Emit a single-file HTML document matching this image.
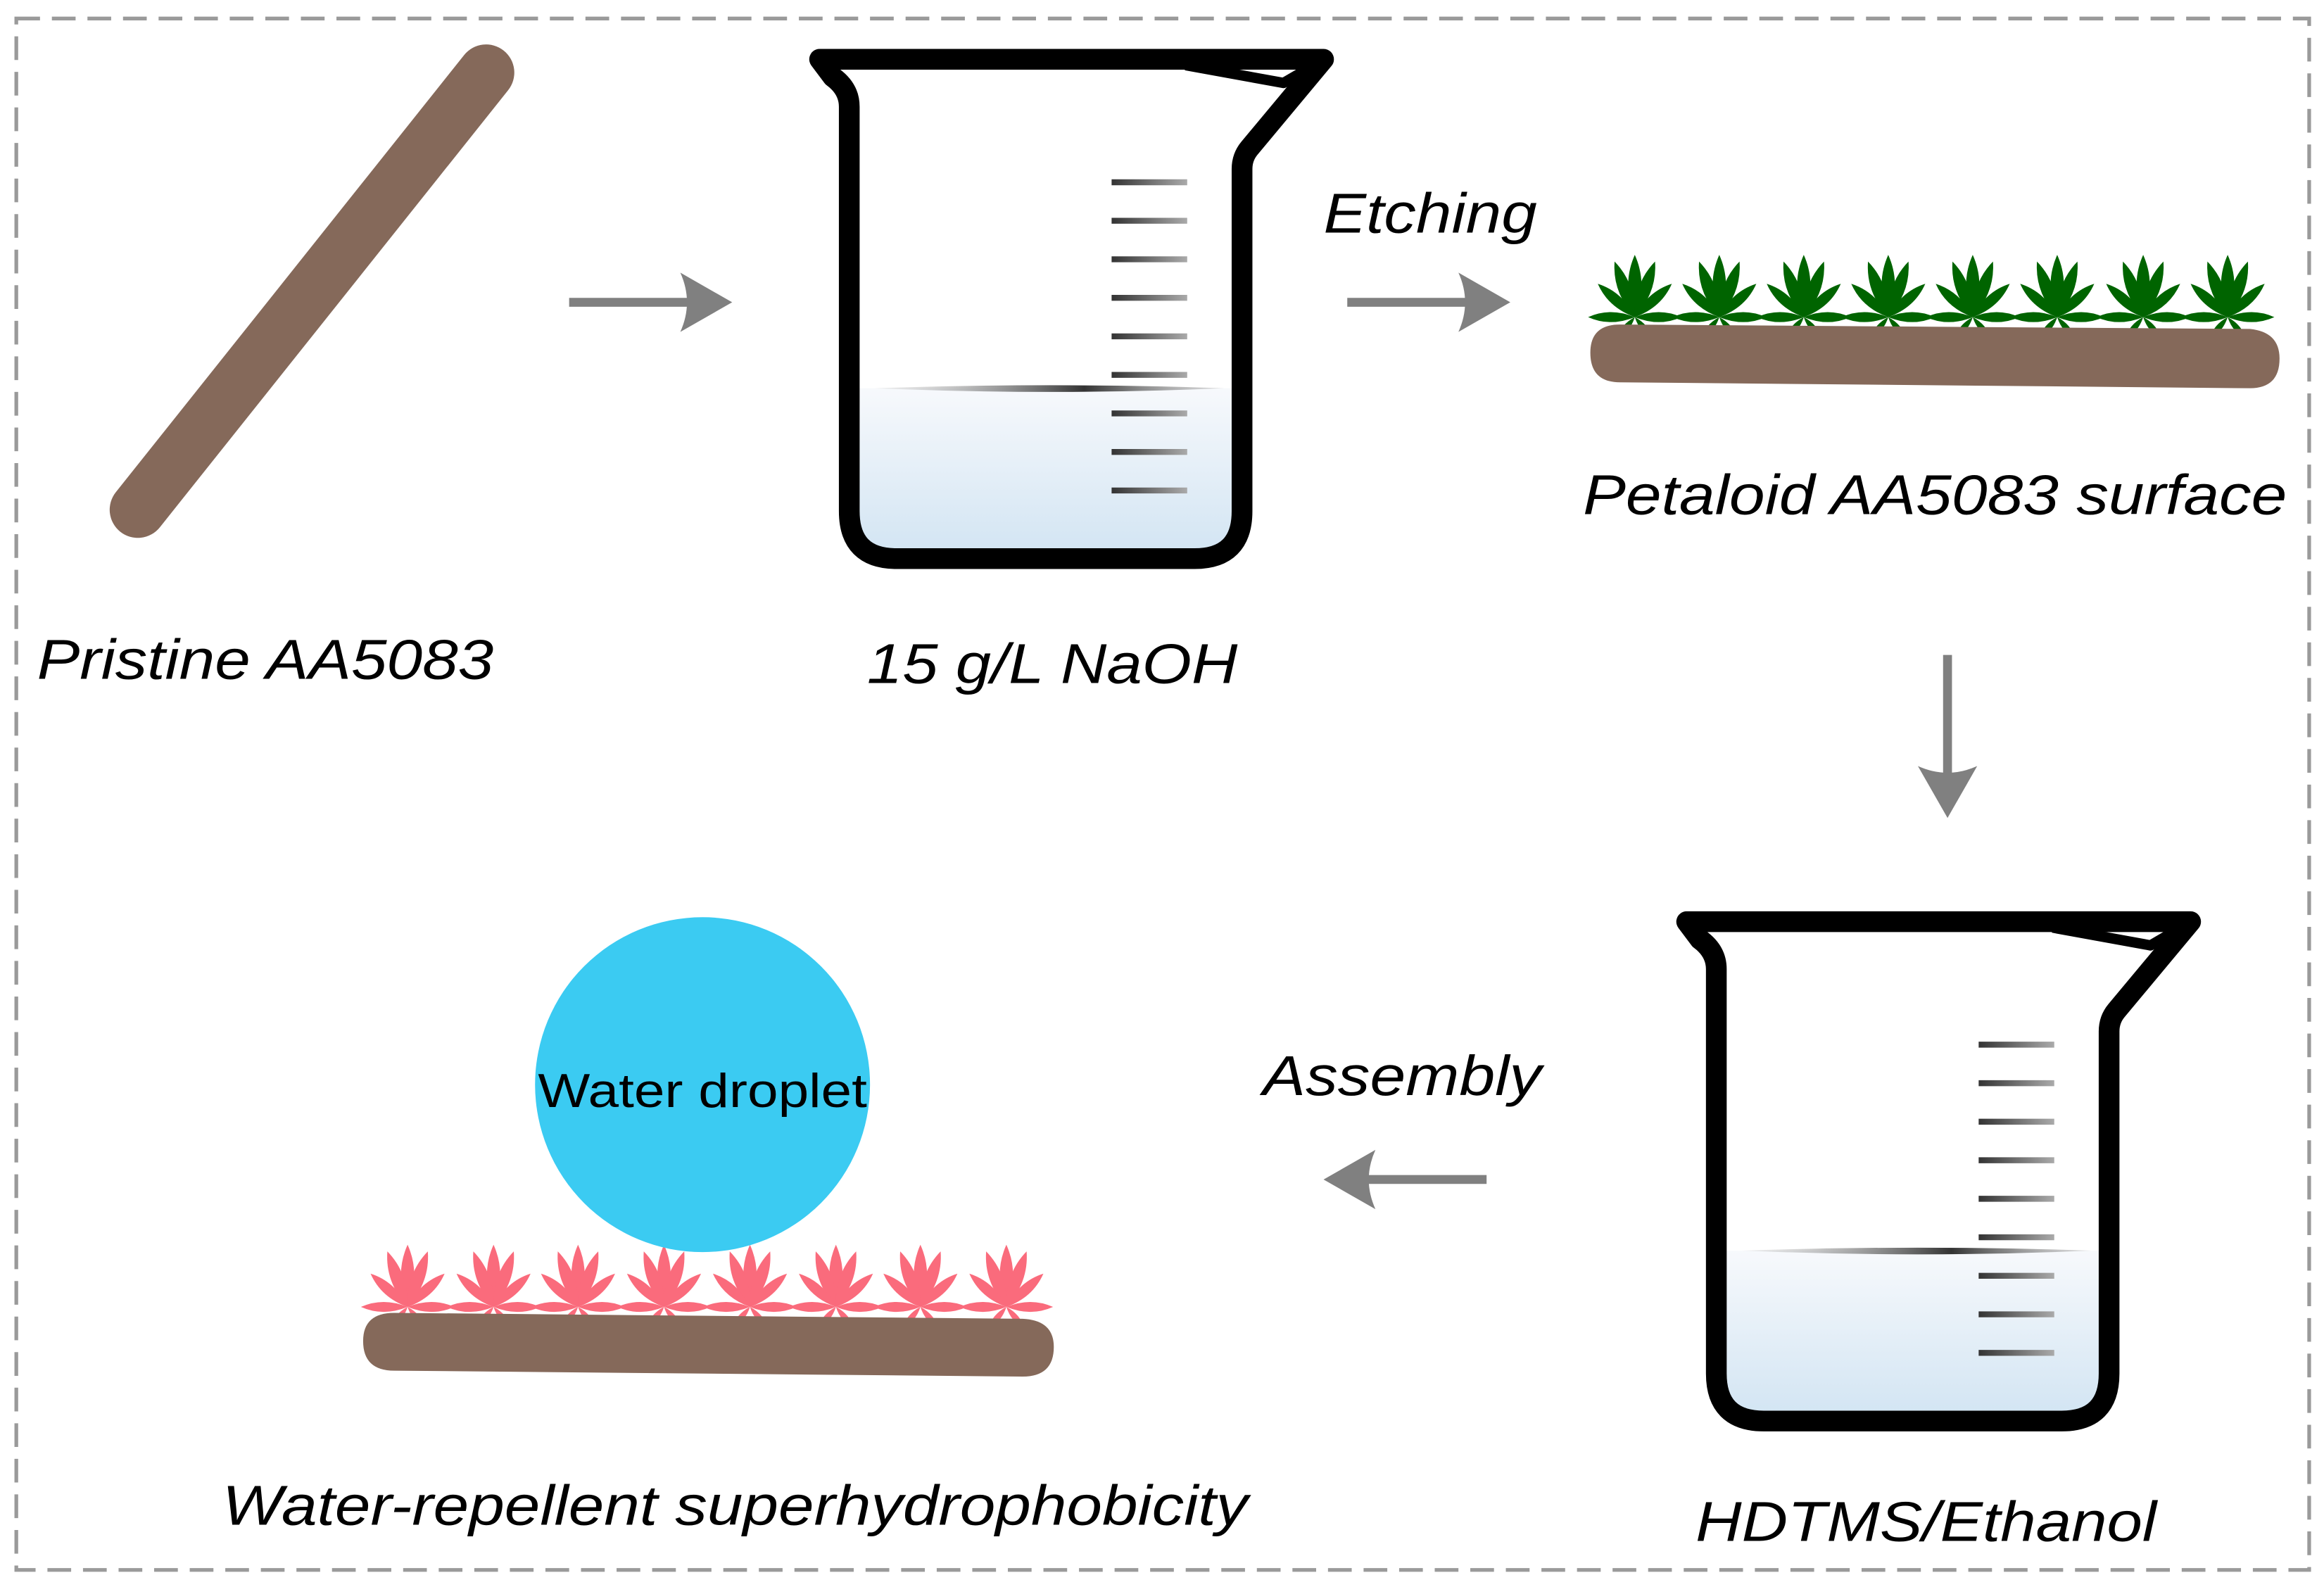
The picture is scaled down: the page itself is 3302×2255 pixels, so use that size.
<!DOCTYPE html>
<html><head><meta charset="utf-8"><style>
html,body{margin:0;padding:0;background:#fff;}
svg{display:block;}
text{font-family:"Liberation Sans",Arial,sans-serif;fill:#000;}
</style></head><body>
<svg width="3302" height="2255" viewBox="0 0 1568 1071" preserveAspectRatio="none" xmlns="http://www.w3.org/2000/svg">
<defs>
<linearGradient id="liq" x1="0" y1="0" x2="0" y2="1">
<stop offset="0" stop-color="#f7f9fc"/><stop offset="1" stop-color="#d3e5f3"/>
</linearGradient>
<linearGradient id="tick" gradientUnits="userSpaceOnUse" x1="750" y1="0" x2="801" y2="0">
<stop offset="0" stop-color="#333"/><stop offset="1" stop-color="#aaa"/>
</linearGradient>
<linearGradient id="lvl" x1="0" y1="0" x2="1" y2="0">
<stop offset="0" stop-color="#bbb" stop-opacity="0.2"/><stop offset="0.6" stop-color="#333"/><stop offset="1" stop-color="#999" stop-opacity="0.3"/>
</linearGradient>
<g id="beaker">
<rect x="580" y="262" width="251" height="110" fill="url(#liq)"/>
<path d="M590 262 Q710 258 826 262 Q710 267 590 262 Z" fill="url(#lvl)"/>
<g stroke="url(#tick)" stroke-width="4">
<line x1="750" y1="123" x2="801" y2="123"/><line x1="750" y1="149" x2="801" y2="149"/>
<line x1="750" y1="175" x2="801" y2="175"/><line x1="750" y1="201" x2="801" y2="201"/>
<line x1="750" y1="227" x2="801" y2="227"/><line x1="750" y1="253" x2="801" y2="253"/>
<line x1="750" y1="279" x2="801" y2="279"/><line x1="750" y1="305" x2="801" y2="305"/>
<line x1="750" y1="331" x2="801" y2="331"/>
</g>
<path d="M553 40 L893 40 L843 100 Q838 106 838 114 L838 345 Q838 377 806 377 L605 377 Q573 377 573 345 L573 72 Q573 60 562 52 Z" fill="none" stroke="#000" stroke-width="14" stroke-linejoin="round"/>
<path d="M800 44 L866 56 L890 42" fill="none" stroke="#000" stroke-width="7" stroke-linejoin="round"/>
</g>
<g id="arrow">
<line x1="-20" y1="0" x2="-108" y2="0" stroke="#808080" stroke-width="6"/>
<path d="M2 0 L-33 -20 Q-24 0 -33 20 Z" fill="#808080"/>
</g>
<path id="petal" d="M0 0 Q9 -22 0 -42 Q-9 -22 0 0 Z"/>
<g id="flower">
<use href="#petal"/>
<use href="#petal" transform="rotate(20) scale(0.95)"/>
<use href="#petal" transform="rotate(-20) scale(0.95)"/>
<use href="#petal" transform="rotate(48) scale(0.8)"/>
<use href="#petal" transform="rotate(-48) scale(0.8)"/>
<use href="#petal" transform="rotate(90) scale(0.75)"/>
<use href="#petal" transform="rotate(-90) scale(0.75)"/>
<use href="#petal" transform="rotate(140) scale(0.45)"/>
<use href="#petal" transform="rotate(-140) scale(0.45)"/>
</g>
</defs>

<rect x="11" y="12.5" width="1547" height="1047" fill="none" stroke="#9a9a9a" stroke-width="2.5" stroke-dasharray="16 8"/>

<line x1="93" y1="344" x2="328" y2="49" stroke="#85695a" stroke-width="38" stroke-linecap="round"/>

<use href="#arrow" transform="translate(492,204)"/>
<use href="#arrow" transform="translate(1017,204)"/>
<use href="#arrow" transform="translate(1314,550) rotate(90)"/>
<use href="#arrow" transform="translate(895,796) rotate(180)"/>

<use href="#beaker"/>
<use href="#beaker" transform="translate(585,582)"/>

<g fill="#006400">
<use href="#flower" transform="translate(1103,214)"/>
<use href="#flower" transform="translate(1160,214)"/>
<use href="#flower" transform="translate(1217,214)"/>
<use href="#flower" transform="translate(1274,214)"/>
<use href="#flower" transform="translate(1331,214)"/>
<use href="#flower" transform="translate(1388,214)"/>
<use href="#flower" transform="translate(1446,214)"/>
<use href="#flower" transform="translate(1503,214)"/>
</g>
<path d="M1093 219 L1518 222 Q1538 224 1538 242 Q1538 262 1518 262 L1093 258 Q1073 258 1073 238 Q1073 219 1093 219 Z" fill="#85695a"/>

<g fill="#fa6b7c">
<use href="#flower" transform="translate(275,882)"/>
<use href="#flower" transform="translate(333,882)"/>
<use href="#flower" transform="translate(390,882)"/>
<use href="#flower" transform="translate(448,882)"/>
<use href="#flower" transform="translate(506,882)"/>
<use href="#flower" transform="translate(564,882)"/>
<use href="#flower" transform="translate(621,882)"/>
<use href="#flower" transform="translate(679,882)"/>
</g>
<path d="M266 886 L690 890 Q711 891 711 909 Q711 929 690 929 L266 925 Q245 925 245 905 Q245 886 266 886 Z" fill="#85695a"/>
<circle cx="474" cy="732" r="113" fill="#3bcbf2"/>
<text x="363" y="747" font-size="32" textLength="222" lengthAdjust="spacingAndGlyphs">Water droplet</text>

<g font-style="italic" font-size="38">
<text x="25" y="458" textLength="308" lengthAdjust="spacingAndGlyphs">Pristine AA5083</text>
<text x="585" y="461" textLength="250" lengthAdjust="spacingAndGlyphs">15 g/L NaOH</text>
<text x="893" y="157" textLength="144" lengthAdjust="spacingAndGlyphs">Etching</text>
<text x="1068" y="347" textLength="475" lengthAdjust="spacingAndGlyphs">Petaloid AA5083 surface</text>
<text x="852" y="739" textLength="188" lengthAdjust="spacingAndGlyphs">Assembly</text>
<text x="150" y="1029" textLength="692" lengthAdjust="spacingAndGlyphs">Water-repellent superhydrophobicity</text>
<text x="1144" y="1040" textLength="311" lengthAdjust="spacingAndGlyphs">HDTMS/Ethanol</text>
</g>
</svg>
</body></html>
